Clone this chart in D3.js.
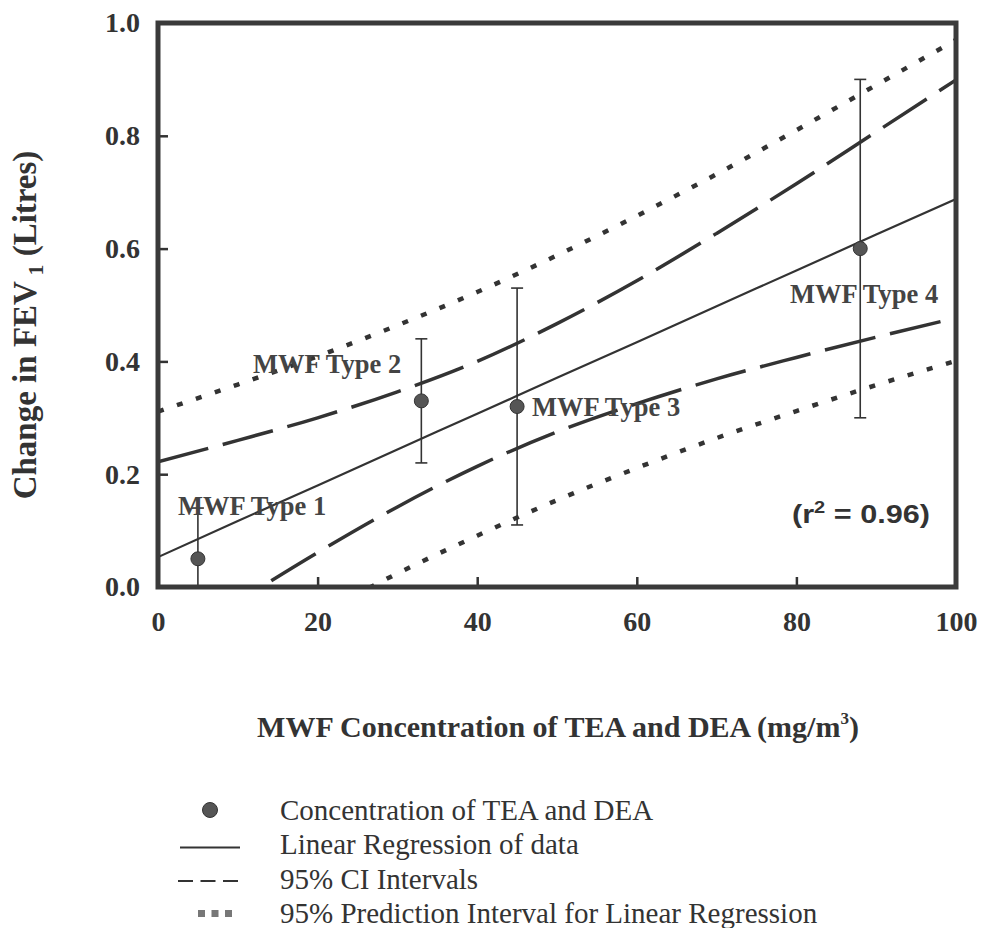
<!DOCTYPE html>
<html>
<head>
<meta charset="utf-8">
<script src="https://cdn.jsdelivr.net/npm/d3@7"></script>
<style>
  html, body { margin: 0; padding: 0; background: #fff; }
  svg { display: block; }
</style>
</head>
<body>
<div id="chart"></div>
<script>
// data
var pointX   = [5, 33, 45, 88];
var pointY   = [0.05, 0.33, 0.32, 0.60];
var pointErr = [0.09, 0.11, 0.21, 0.30];
var pointLabels = ["MWF Type 1", "MWF Type 2", "MWF Type 3", "MWF Type 4"];

var curveX   = [0, 10, 20, 30, 40, 50, 60, 70, 80, 90, 100];
var fitY     = [0.053, 0.117, 0.180, 0.244, 0.307, 0.371, 0.434, 0.498, 0.561, 0.625, 0.688];
var ciUpper  = [0.222, 0.260, 0.300, 0.346, 0.400, 0.467, 0.543, 0.627, 0.715, 0.807, 0.899];
var ciLower  = [-0.116, -0.026, 0.061, 0.142, 0.214, 0.275, 0.325, 0.369, 0.407, 0.443, 0.477];
var piUpper  = [0.311, 0.359, 0.409, 0.464, 0.523, 0.588, 0.658, 0.732, 0.810, 0.890, 0.970];
var piLower  = [-0.205, -0.125, -0.049, 0.024, 0.091, 0.154, 0.211, 0.264, 0.312, 0.358, 0.401];

var xTicks = [0, 20, 40, 60, 80, 100];
var yTicks = [0.0, 0.2, 0.4, 0.6, 0.8, 1.0];

var legendLabels = [
  "Concentration of TEA and DEA",
  "Linear Regression of data",
  "95% CI Intervals",
  "95% Prediction Interval for Linear Regression"
];

(function () {
  var W = 983, H = 928;
  var SERIF = "'Liberation Serif', 'Times New Roman', serif";
  var INK = "#333";

  var x = d3.scaleLinear().domain([0, 100]).range([158, 956]);
  var y = d3.scaleLinear().domain([0, 1]).range([587, 23]);

  var svg = d3.select("#chart").append("svg")
    .attr("width", W).attr("height", H)
    .style("font-family", SERIF);

  svg.append("defs").append("clipPath").attr("id", "plot-clip")
    .append("rect")
    .attr("x", x(0)).attr("y", y(1))
    .attr("width", x(100) - x(0)).attr("height", y(0) - y(1));

  // ── Axes (inward ticks) ─────────────────────────────────────────────
  var yAxis = svg.append("g")
    .attr("transform", "translate(" + x(0) + ",0)")
    .call(d3.axisLeft(y).tickValues(yTicks).tickFormat(d3.format(".1f"))
      .tickSize(-10).tickPadding(18));

  var xAxis = svg.append("g")
    .attr("transform", "translate(0," + y(0) + ")")
    .call(d3.axisBottom(x).tickValues(xTicks).tickFormat(d3.format("d"))
      .tickSize(-10).tickPadding(24));

  [xAxis, yAxis].forEach(function (a) {
    a.select(".domain").remove();
    a.selectAll(".tick line").attr("stroke", INK).attr("stroke-width", 2.5);
    a.selectAll(".tick text")
      .attr("fill", INK)
      .style("font-family", SERIF)
      .style("font-size", "28px")
      .style("font-weight", "bold");
  });

  // ── Curves ──────────────────────────────────────────────────────────
  var plot = svg.append("g").attr("clip-path", "url(#plot-clip)");

  function lineFor(vals) {
    return d3.line()
      .x(function (d, i) { return x(curveX[i]); })
      .y(function (d) { return y(d); })
      .curve(d3.curveMonotoneX)(vals);
  }

  [piUpper, piLower].forEach(function (vals) {
    plot.append("path").attr("d", lineFor(vals))
      .attr("fill", "none").attr("stroke", INK)
      .attr("stroke-width", 4.5).attr("stroke-dasharray", "6,14");
  });

  [ciUpper, ciLower].forEach(function (vals) {
    plot.append("path").attr("d", lineFor(vals))
      .attr("fill", "none").attr("stroke", INK)
      .attr("stroke-width", 3.5).attr("stroke-dasharray", "52,15");
  });

  plot.append("path").attr("d", lineFor(fitY))
    .attr("fill", "none").attr("stroke", INK).attr("stroke-width", 2.2);

  // ── Error bars + points ─────────────────────────────────────────────
  pointX.forEach(function (px, i) {
    var cx = x(px);
    var top = y(pointY[i] + pointErr[i]), bot = y(pointY[i] - pointErr[i]);
    plot.append("line")
      .attr("x1", cx).attr("x2", cx).attr("y1", top).attr("y2", bot)
      .attr("stroke", INK).attr("stroke-width", 1.6);
    [top, bot].forEach(function (yy) {
      plot.append("line")
        .attr("x1", cx - 6).attr("x2", cx + 6).attr("y1", yy).attr("y2", yy)
        .attr("stroke", INK).attr("stroke-width", 1.6);
    });
  });

  plot.selectAll("circle.pt")
    .data(pointX)
    .join("circle")
    .attr("class", "pt")
    .attr("cx", function (d) { return x(d); })
    .attr("cy", function (d, i) { return y(pointY[i]); })
    .attr("r", 7)
    .attr("fill", "#555")
    .attr("stroke", "#333")
    .attr("stroke-width", 1);

  // point labels
  var labelPos = [[178, 515], [253, 373], [532, 416], [790, 303]];
  pointLabels.forEach(function (t, i) {
    svg.append("text")
      .attr("x", labelPos[i][0]).attr("y", labelPos[i][1])
      .attr("font-size", "26.5px").attr("font-weight", "bold")
      .attr("fill", "#444")
      .text(t);
  });

  // r² note
  var r2 = svg.append("text")
    .attr("x", 792).attr("y", 523)
    .attr("textLength", 138).attr("lengthAdjust", "spacingAndGlyphs")
    .style("font-family", "'Liberation Sans', Arial, sans-serif")
    .attr("font-size", "26px").attr("font-weight", "bold")
    .attr("fill", INK);
  r2.append("tspan").text("(r");
  r2.append("tspan").attr("dy", -10).attr("font-size", "17px").text("2");
  r2.append("tspan").attr("dy", 10).text(" = 0.96)");

  // frame
  svg.append("rect")
    .attr("x", x(0)).attr("y", y(1))
    .attr("width", x(100) - x(0)).attr("height", y(0) - y(1))
    .attr("fill", "none").attr("stroke", "#3a3a3a").attr("stroke-width", 5);

  // ── Axis titles ─────────────────────────────────────────────────────
  var xt = svg.append("text")
    .attr("x", 558).attr("y", 737)
    .attr("text-anchor", "middle")
    .attr("font-size", "30px").attr("font-weight", "bold")
    .attr("fill", INK);
  xt.append("tspan").text("MWF Concentration of TEA and DEA (mg/m");
  xt.append("tspan").attr("dy", -13).attr("font-size", "17px").text("3");
  xt.append("tspan").attr("dy", 13).text(")");

  var yt = svg.append("text")
    .attr("transform", "translate(36,325) rotate(-90)")
    .attr("text-anchor", "middle")
    .attr("font-size", "33px").attr("font-weight", "bold")
    .attr("fill", INK);
  yt.append("tspan").text("Change in FEV");
  yt.append("tspan").attr("dy", 7).attr("font-size", "22px").text(" 1");
  yt.append("tspan").attr("dy", -7).text(" (Litres)");

  // ── Legend ──────────────────────────────────────────────────────────
  var lg = svg.append("g").attr("transform", "translate(0,810)");
  var rowH = 34.5;

  lg.append("circle").attr("cx", 210).attr("cy", 0).attr("r", 7.5)
    .attr("fill", "#555").attr("stroke", "#333");
  lg.append("line").attr("x1", 180).attr("x2", 240).attr("y1", rowH + 3).attr("y2", rowH + 3)
    .attr("stroke", INK).attr("stroke-width", 2.2);
  lg.append("line").attr("x1", 178).attr("x2", 238).attr("y1", rowH * 2 + 2).attr("y2", rowH * 2 + 2)
    .attr("stroke", INK).attr("stroke-width", 2).attr("stroke-dasharray", "15,7.5");
  lg.append("line").attr("x1", 198).attr("x2", 232).attr("y1", rowH * 3).attr("y2", rowH * 3)
    .attr("stroke", "#777").attr("stroke-width", 7).attr("stroke-dasharray", "7,6.5");

  lg.selectAll("text.lg")
    .data(legendLabels)
    .join("text")
    .attr("class", "lg")
    .attr("x", 280)
    .attr("y", function (d, i) { return i * rowH; })
    .attr("dy", "0.33em")
    .attr("font-size", "29px")
    .attr("fill", INK)
    .text(function (d) { return d; });
})();
</script>
</body>
</html>
